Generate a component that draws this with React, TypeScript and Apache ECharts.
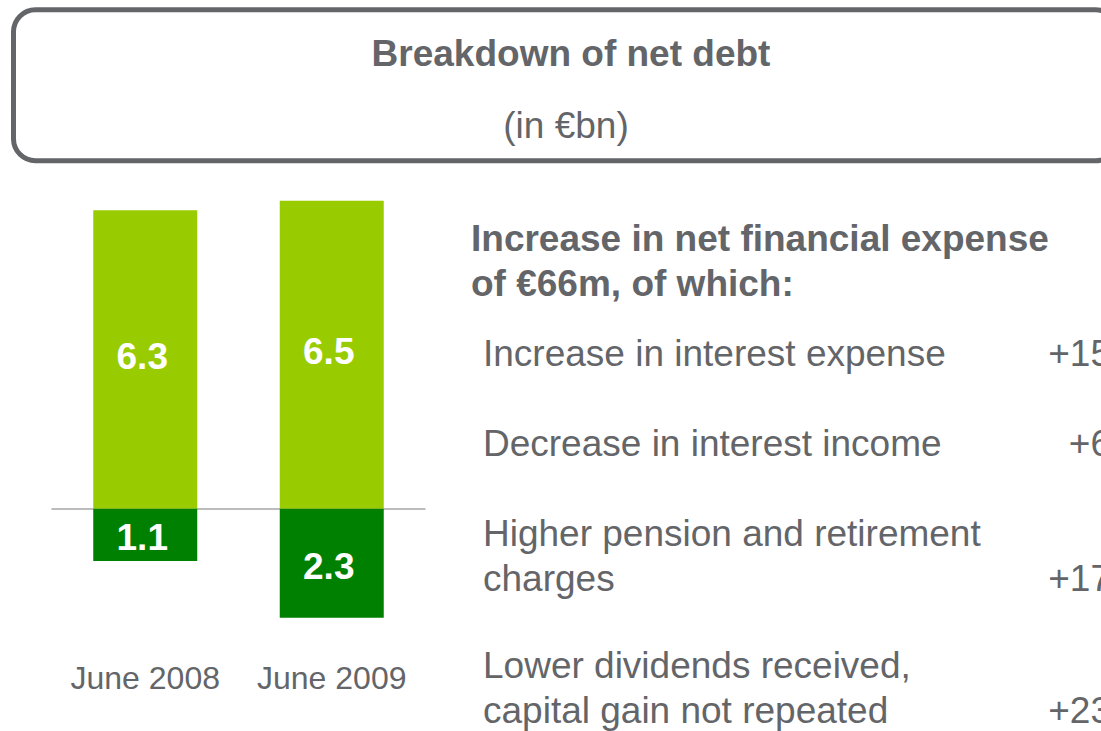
import React, { useEffect, useRef } from "react";
import * as echarts from "echarts";

const categories = ["June 2008", "June 2009"];
const grossDebt = [6.3, 6.5];
const cashNegative = [-1.1, -2.3];

const titleText = "Breakdown of net debt";
const subtitleText = "(in €bn)";
const headingText = "Increase in net financial expense\nof €66m, of which:";
const itemLabels = [
  "Increase in interest expense",
  "Decrease in interest income",
  "Higher pension and retirement\ncharges",
  "Lower dividends received,\ncapital gain not repeated",
];
const itemValues = ["+15", "+6", "+17", "+23"];

const FONT = "'Liberation Sans', Arial, Helvetica, sans-serif";
const GREY = "#636569";

export default function App() {
  const ref = useRef<HTMLDivElement>(null);

  useEffect(() => {
    if (!ref.current) return;
    const chart = echarts.init(ref.current, undefined, { renderer: "svg" });

    const itemY = [353, 443, 555.5, 687.5];
    const valueY = [353, 443, 578, 710];

    const graphics: any[] = [
      {
        type: "rect",
        shape: { x: 13.5, y: 9.8, width: 1104, height: 151, r: 22 },
        style: { fill: "transparent", stroke: GREY, lineWidth: 5 },
        z: 1,
      },
      {
        type: "text",
        x: 566,
        y: 125,
        style: {
          text: subtitleText,
          fill: GREY,
          font: `37px ${FONT}`,
          textAlign: "center",
          textVerticalAlign: "middle",
        },
      },
      {
        type: "text",
        x: 471,
        y: 260.5,
        style: {
          text: headingText,
          fill: GREY,
          font: `bold 37px ${FONT}`,
          lineHeight: 45,
          textAlign: "left",
          textVerticalAlign: "middle",
        },
      },
    ];
    itemLabels.forEach((t, i) => {
      graphics.push({
        type: "text",
        x: 483,
        y: itemY[i],
        style: {
          text: t,
          fill: GREY,
          font: `37px ${FONT}`,
          lineHeight: 45,
          textAlign: "left",
          textVerticalAlign: "middle",
        },
      });
      graphics.push({
        type: "text",
        x: 1111,
        y: valueY[i],
        style: {
          text: itemValues[i],
          fill: GREY,
          font: `37px ${FONT}`,
          textAlign: "right",
          textVerticalAlign: "middle",
        },
      });
    });

    const labelStyle = {
      show: true,
      position: "inside",
      color: "#ffffff",
      fontFamily: FONT,
      fontWeight: "bold",
      fontSize: 37,
      formatter: (p: any) => Math.abs(p.value).toFixed(1),
    };

    chart.setOption({
      animation: false,
      backgroundColor: "#ffffff",
      title: {
        text: titleText,
        left: 566,
        top: 26,
        textAlign: "center",
        textStyle: {
          color: GREY,
          fontFamily: FONT,
          fontWeight: "bold",
          fontSize: 37,
          lineHeight: 44,
        },
      },
      grid: {
        left: 52,
        width: 373,
        top: 177,
        height: 474,
        containLabel: false,
        outerBoundsMode: "none",
      },
      xAxis: {
        type: "category",
        data: categories,
        axisTick: { show: false },
        axisLine: { show: true, onZero: true, lineStyle: { color: "#a6a6a6", width: 1.5 } },
        axisLabel: {
          interval: 0,
          hideOverlap: false,
          color: GREY,
          fontFamily: FONT,
          fontSize: 32,
          margin: 27,
          verticalAlign: "middle",
        },
      },
      yAxis: {
        type: "value",
        min: -3,
        max: 7,
        show: false,
        splitLine: { show: false },
      },
      series: [
        {
          type: "bar",
          name: "Gross debt",
          stack: "debt",
          data: grossDebt,
          barWidth: 104,
          itemStyle: { color: "#99cc00" },
          label: { ...labelStyle, offset: [-3, -3] },
        },
        {
          type: "bar",
          name: "Cash",
          stack: "debt",
          data: cashNegative,
          barWidth: 104,
          itemStyle: { color: "#008000" },
          label: { ...labelStyle, offset: [-3, 3] },
        },
      ],
      graphic: graphics,
    });

    return () => chart.dispose();
  }, []);

  return (
    <div
      ref={ref}
      style={{ position: "absolute", left: 0, top: 0, width: 1101, height: 731 }}
    />
  );
}
